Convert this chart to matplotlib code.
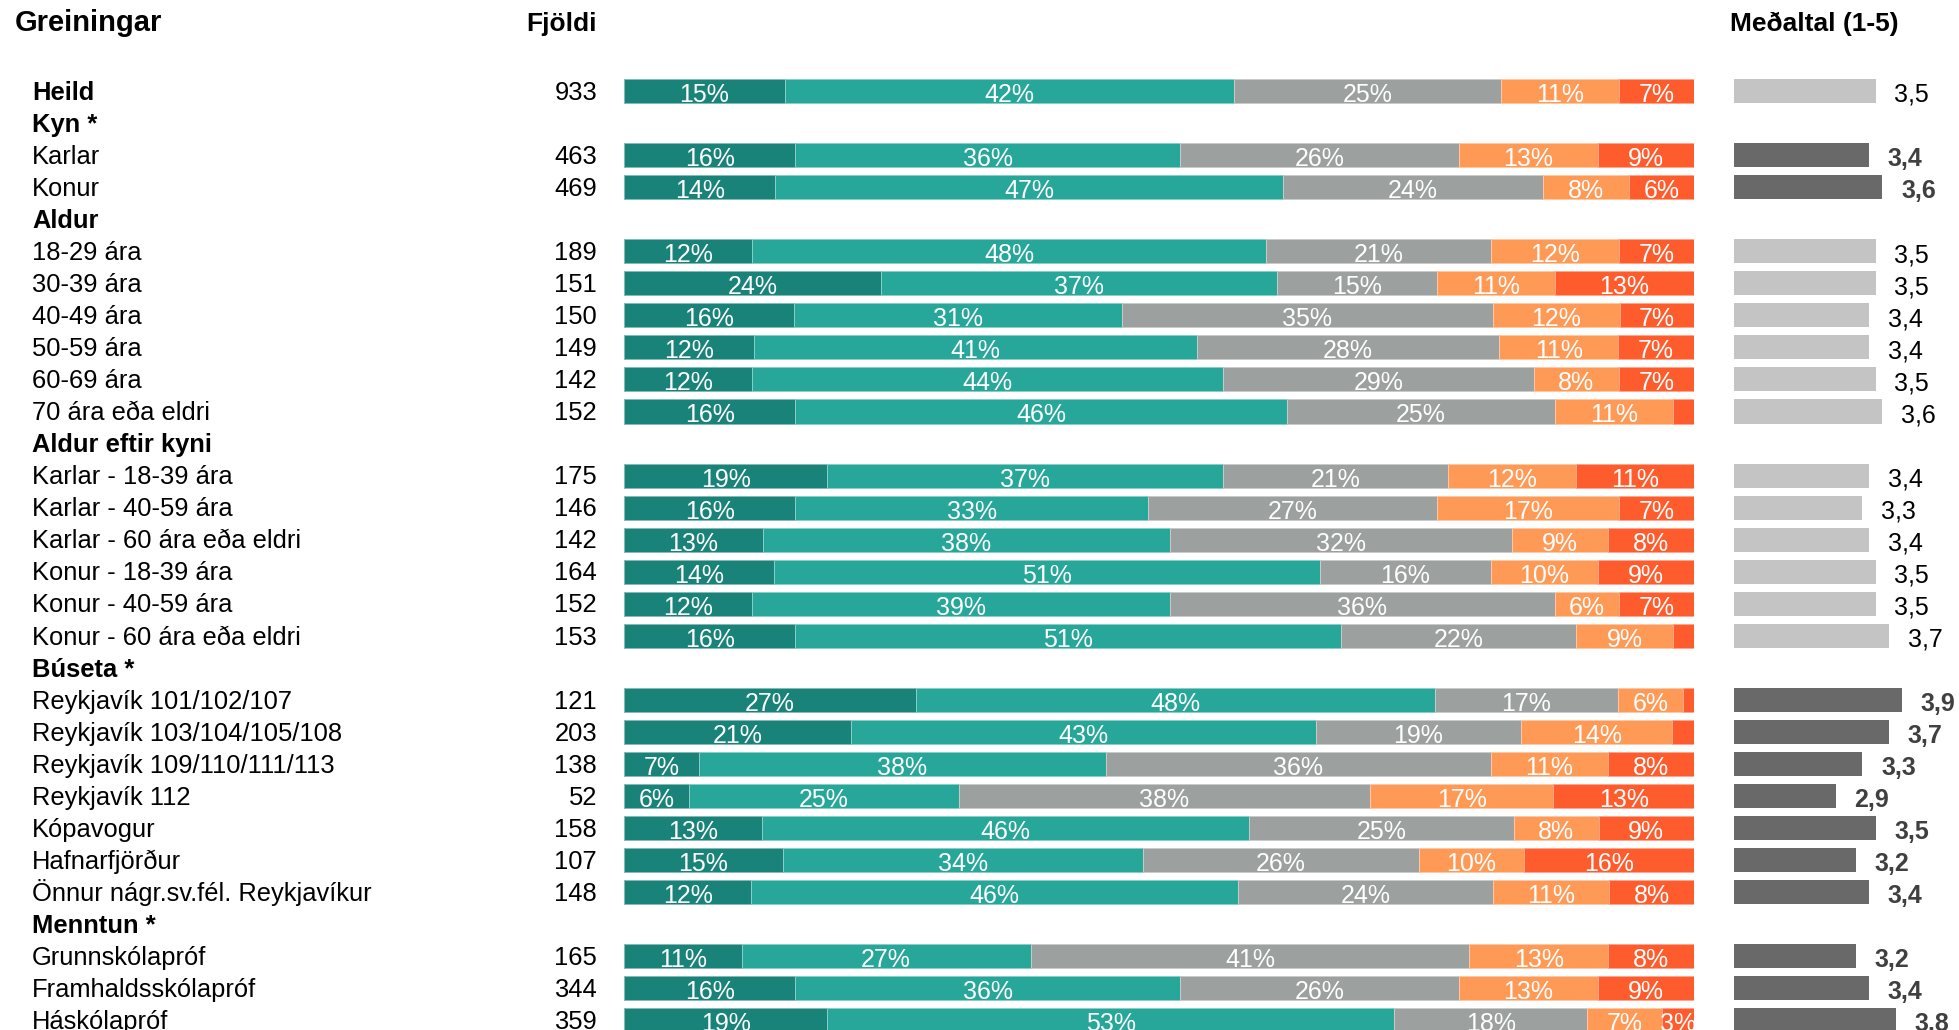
import matplotlib
matplotlib.use("Agg")
import matplotlib.pyplot as plt
from matplotlib import transforms
from matplotlib.colors import to_rgb

plt.rcParams['font.family'] = ['Liberation Sans', 'DejaVu Sans']

# data
labels = ["Heild",
          "Karlar", "Konur",
          "18-29 ára", "30-39 ára", "40-49 ára", "50-59 ára", "60-69 ára", "70 ára eða eldri",
          "Karlar - 18-39 ára", "Karlar - 40-59 ára", "Karlar - 60 ára eða eldri",
          "Konur - 18-39 ára", "Konur - 40-59 ára", "Konur - 60 ára eða eldri",
          "Reykjavík 101/102/107", "Reykjavík 103/104/105/108", "Reykjavík 109/110/111/113",
          "Reykjavík 112", "Kópavogur", "Hafnarfjörður", "Önnur nágr.sv.fél. Reykjavíkur",
          "Grunnskólapróf", "Framhaldsskólapróf", "Háskólapróf"]
group_names = ["Kyn *", "Aldur", "Aldur eftir kyni", "Búseta *", "Menntun *"]
group_sizes = [2, 6, 6, 7, 3]

counts = [933, 463, 469, 189, 151, 150, 149, 142, 152, 175, 146, 142, 164, 152, 153,
          121, 203, 138, 52, 158, 107, 148, 165, 344, 359]
means = [3.5, 3.4, 3.6, 3.5, 3.5, 3.4, 3.4, 3.5, 3.6, 3.4, 3.3, 3.4, 3.5, 3.5, 3.7,
         3.9, 3.7, 3.3, 2.9, 3.5, 3.2, 3.4, 3.2, 3.4, 3.8]

pct1 = [15, 16, 14, 12, 24, 16, 12, 12, 16, 19, 16, 13, 14, 12, 16, 27, 21, 7, 6, 13, 15, 12, 11, 16, 19]
pct2 = [42, 36, 47, 48, 37, 31, 41, 44, 46, 37, 33, 38, 51, 39, 51, 48, 43, 38, 25, 46, 34, 46, 27, 36, 53]
pct3 = [25, 26, 24, 21, 15, 35, 28, 29, 25, 21, 27, 32, 16, 36, 22, 17, 19, 36, 38, 25, 26, 24, 41, 26, 18]
pct4 = [11, 13, 8, 12, 11, 12, 11, 8, 11, 12, 17, 9, 10, 6, 9, 6, 14, 11, 17, 8, 10, 11, 13, 13, 7]
pct5 = [7, 9, 6, 7, 13, 7, 7, 7, 2, 11, 7, 8, 9, 7, 2, 1, 2, 8, 13, 9, 16, 8, 8, 9, 3]

seg_colors = ["#1a8379", "#27a69a", "#9ca09f", "#ff9956", "#ff5c2e"]


def lighter(c, f=0.45):
    rgb = to_rgb(c)
    return tuple(x + (1 - x) * f for x in rgb)


W, H = 1959, 1030
fig = plt.figure(figsize=(W / 100, H / 100), dpi=100)

# row positions: Heild first, then each group heading followed by its rows
row_y = [0]
head_y = []
sig = [False]
r = 1
for name, n in zip(group_names, group_sizes):
    head_y.append(r)
    r += 1
    for i in range(n):
        row_y.append(r)
        sig.append(name.endswith("*"))
        r += 1

ylim = ((H - 91) / 32.05, -0.5)
ax = fig.add_axes([624 / W, 0, 1070 / W, (H - 75) / H])
ax.set_xlim(0, 100)
ax.set_ylim(*ylim)
ax.axis("off")

segs = [pct1, pct2, pct3, pct4, pct5]
for k, y in enumerate(row_y):
    vals = [s[k] for s in segs]
    tot = sum(vals)
    left = 0
    for v, c in zip(vals, seg_colors):
        w = v / tot * 100
        ax.barh(y, w, left=left, height=0.75, color=c, edgecolor=lighter(c), linewidth=0.7)
        if v >= 3:
            ax.text(left + w / 2, y + 0.34, f"{v}%", ha="center", va="baseline",
                    color="white", fontsize=18)
        left += w

# mean bars
lo = (1734 - 1643) / 66.5
ax2 = fig.add_axes([1734 / W, 0, (W - 1734) / W, (H - 75) / H])
ax2.set_xlim(lo, lo + (W - 1734) / 66.5)
ax2.set_ylim(*ylim)
ax2.axis("off")
for y, m, s in zip(row_y, means, sig):
    ax2.barh(y, m, height=0.75, color="#696969" if s else "#c4c4c4")
    txt = f"{m:.1f}".replace(".", ",")
    if s:
        ax2.text(m + 0.28, y + 0.34, txt, va="baseline", ha="left", fontsize=18,
                 fontweight="bold", color="#404040")
    else:
        ax2.text(m + 0.28, y + 0.34, txt, va="baseline", ha="left", fontsize=18,
                 color="black")

# text columns
tr = transforms.blended_transform_factory(fig.transFigure, ax.transData)
for lab, y, n in zip(labels, row_y, counts):
    bold = lab == "Heild"
    fig.text(32 / W, y + 0.27, lab, transform=tr, va="baseline", ha="left",
             fontsize=18.4, fontweight="bold" if bold else "normal")
    fig.text(597 / W, y + 0.27, str(n), transform=tr, va="baseline", ha="right",
             fontsize=18.4)
for name, y in zip(group_names, head_y):
    fig.text(32 / W, y + 0.27, name, transform=tr, va="baseline", ha="left",
             fontsize=18.4, fontweight="bold")

fig.text(15 / W, 1 - 31 / H, "Greiningar", fontsize=21, fontweight="bold", va="baseline")
fig.text(597 / W, 1 - 31 / H, "Fjöldi", fontsize=19, fontweight="bold", va="baseline", ha="right")
fig.text(1730 / W, 1 - 31 / H, "Meðaltal (1-5)", fontsize=19, fontweight="bold", va="baseline")

fig.savefig("out.png", dpi=100)
